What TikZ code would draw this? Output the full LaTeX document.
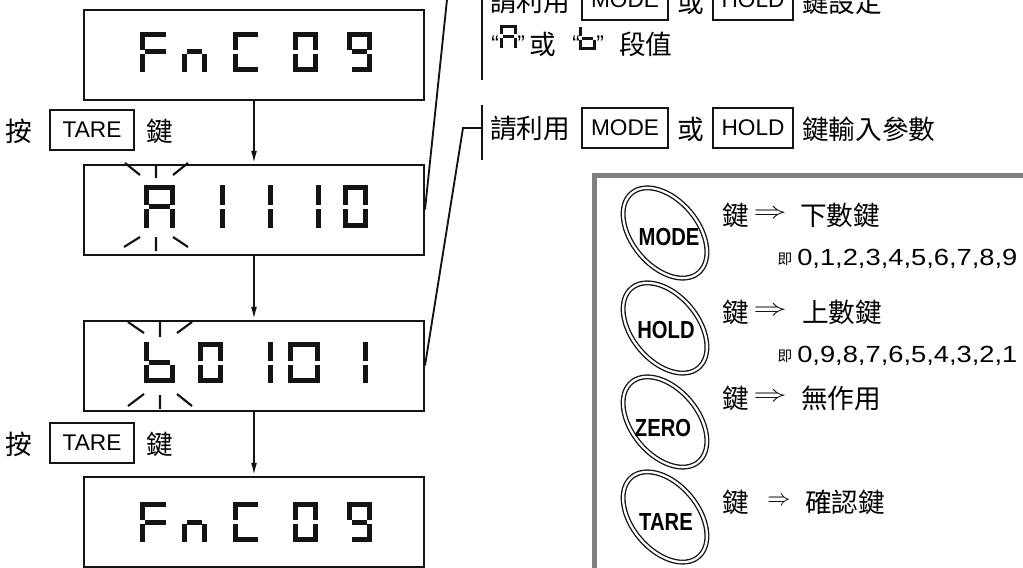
\documentclass[tikz,border=0pt]{standalone}
\usepackage{fontspec}
\setmainfont{Liberation Sans}
\newfontfamily\cjk{Noto Sans CJK TC}
\usetikzlibrary{arrows.meta,calc}
\definecolor{ink}{RGB}{20,20,20}
\definecolor{framegray}{RGB}{128,128,128}
% seven-segment parts (local coordinates, y downwards)
\def\sga{\fill[segfill] (\segT,0) rectangle (\segW-\segT,\segT);}
\def\sgb{\fill[segfill] (\segW-\segT,0) rectangle (\segW,\segH/2-2);}
\def\sgc{\fill[segfill] (\segW-\segT,\segH/2+2) rectangle (\segW,\segH);}
\def\sgd{\fill[segfill] (\segT,\segH-\segT) rectangle (\segW-\segT,\segH);}
\def\sge{\fill[segfill] (0,\segH/2+2) rectangle (\segT,\segH);}
\def\sgf{\fill[segfill] (0,0) rectangle (\segT,\segH/2-2);}
\def\sgg{\fill[segfill] (\segT,\segH/2-\segT/2) rectangle (\segW-\segT,\segH/2+\segT/2);}
\newcommand\sevenseg[6]{%
  \begin{scope}[shift={(#1,#2)}]
    \def\segW{#3}\def\segH{#4}\def\segT{#5}%
    \foreach \s in {#6}{\csname sg\s\endcsname}
  \end{scope}}
\begin{document}
\begin{tikzpicture}[x=0.75pt,y=-0.75pt,
  segfill/.style={fill=ink},
  lcd/.style={draw=ink, line width=1.5pt, minimum width=255pt, minimum height=67.5pt, inner sep=0pt},
  keybox/.style={draw=ink, line width=1.3pt, minimum height=30pt, inner sep=0pt, font=\fontsize{17pt}{19pt}\selectfont},
  cjkt/.style={font=\cjk\fontsize{20pt}{22pt}\selectfont, inner sep=0pt},
  cjks/.style={font=\cjk\fontsize{11pt}{12pt}\selectfont, inner sep=0pt},
  nums/.style={font=\fontsize{17.5pt}{19pt}\selectfont, inner sep=0pt},
  latin/.style={font=\fontsize{17pt}{19pt}\selectfont, inner sep=0pt},
  flow/.style={draw=ink, line width=1.4pt, -{Latex[length=9.5pt,width=4.5pt]}},
  conn/.style={draw=ink, line width=1.4pt},
  blink/.style={draw=ink, line width=1.6pt},
  keyring/.style={draw=ink, double=white, double distance=1.7pt, line width=1pt},
  keylabel/.style={font=\bfseries\fontsize{18.5pt}{20pt}\selectfont, inner sep=0pt}]
\useasboundingbox (0,0) rectangle (1023,567);

% ---------- right key panel ----------
\draw[draw=framegray, line width=3.75pt] (594,175) rectangle (1045,595);
\foreach \cy in {233, 328, 422, 517}{
  \draw[keyring, rotate around={-50:(665,\cy)}] (665,\cy) ellipse [x radius=52, y radius=33];
}
\node[keylabel] (kmode) at (669,237) {\scalebox{0.82}[1]{MODE}};
\node[keylabel] (khold) at (666,330) {\scalebox{0.82}[1]{HOLD}};
\node[keylabel] (kzero) at (663,428) {\scalebox{0.82}[1]{ZERO}};
\node[keylabel] (ktare) at (666,522) {\scalebox{0.82}[1]{TARE}};

\node[cjkt, anchor=west] (m1) at (722,215) {鍵};
\node[latin] (m2) at (770,214) {\scalebox{1.45}[1]{$\Rightarrow$}};
\node[cjkt, anchor=west] (m3) at (800,215) {下數鍵};
\node[cjks] (m4) at (785,259) {即};
\node[nums, anchor=west] (m5) at (797,259) {\scalebox{1.17}[1]{0,1,2,3,4,5,6,7,8,9}};

\node[cjkt, anchor=west] (h1) at (722,312) {鍵};
\node[latin] (h2) at (770,311) {\scalebox{1.45}[1]{$\Rightarrow$}};
\node[cjkt, anchor=west] (h3) at (802,312) {上數鍵};
\node[cjks] (h4) at (785,356) {即};
\node[nums, anchor=west] (h5) at (797,356) {\scalebox{1.17}[1]{0,9,8,7,6,5,4,3,2,1}};

\node[cjkt, anchor=west] (z1) at (722,398) {鍵};
\node[latin] (z2) at (770,397) {\scalebox{1.45}[1]{$\Rightarrow$}};
\node[cjkt, anchor=west] (z3) at (801,398) {無作用};

\node[cjkt, anchor=west] (t1) at (722,502) {鍵};
\node[latin] (t2) at (779,501) {$\Rightarrow$};
\node[cjkt, anchor=west] (t3) at (805,502) {確認鍵};

% ---------- LCD boxes ----------
\node[lcd] (lcd1) at (254,55) {};
\node[lcd] (lcd2) at (254,209.5) {};
\node[lcd] (lcd3) at (254,365.5) {};
\node[lcd] (lcd4) at (254,521.5) {};

\draw[flow] (lcd1.south) -- (lcd2.north);
\draw[flow] (lcd2.south) -- (lcd3.north);
\draw[flow] (lcd3.south) -- (lcd4.north);

% FnC 09
\sevenseg{140}{32}{31}{40}{5}{a,e,f,g}
\sevenseg{182}{32}{25}{40}{5}{c,e,g}
\sevenseg{233}{32}{30}{40}{5}{a,d,e,f}
\sevenseg{293}{32}{25}{40}{5}{a,b,c,d,e,f}
\sevenseg{347}{32}{25}{40}{5}{a,b,c,d,f,g}
% A 1 1 1 0
\sevenseg{144}{185}{31}{43}{5}{a,b,c,e,f,g}
\sevenseg{200}{185}{25}{43}{5}{b,c}
\sevenseg{248}{185}{25}{43}{5}{b,c}
\sevenseg{296}{185}{25}{43}{5}{b,c}
\sevenseg{343}{185}{25}{43}{5}{a,b,c,d,e,f}
% b0 101
\sevenseg{144}{342}{31}{41}{5}{c,d,e,f,g}
\sevenseg{198}{342}{25}{41}{5}{a,b,c,d,e,f}
\sevenseg{248}{342}{25}{41}{5}{b,c}
\sevenseg{288}{342}{32}{41}{5}{a,b,c,d,e,f}
\sevenseg{343}{342}{25}{41}{5}{b,c}
% FnC 09
\sevenseg{140}{502}{31}{40}{5}{a,e,f,g}
\sevenseg{182}{502}{25}{40}{5}{c,e,g}
\sevenseg{233}{502}{30}{40}{5}{a,d,e,f}
\sevenseg{293}{502}{25}{40}{5}{a,b,c,d,e,f}
\sevenseg{347}{502}{25}{40}{5}{a,b,c,d,f,g}

% blink marks
\draw[blink] (125,163) -- (140,175) (156,164) -- (156,178) (188,163) -- (173,175);
\draw[blink] (124,247) -- (140,237) (156,237) -- (156,251) (188,247) -- (173,237);
\draw[blink] (128,322) -- (144,333) (160,322) -- (160,337) (192,322) -- (177,333);
\draw[blink] (128,406) -- (144,394) (160,395) -- (160,409) (192,406) -- (177,394);

% ---------- left labels ----------
\node[cjkt] (p1) at (19,131) {按};
\node[keybox, minimum width=63pt] (tare1) at (92,130) {TARE};
\node[cjkt] (k1) at (160,131) {鍵};
\node[cjkt] (p2) at (19,444) {按};
\node[keybox, minimum width=63pt] (tare2) at (92,443) {TARE};
\node[cjkt] (k2) at (160,444) {鍵};

% ---------- top texts ----------
\node[cjkt, anchor=west] (a1) at (490,2) {請利用};
\node[keybox, minimum width=64.5pt] (a2) at (625,0) {MODE};
\node[cjkt] (a3) at (691,2) {或};
\node[keybox, minimum width=60pt] (a4) at (753,0) {HOLD};
\node[cjkt, anchor=west] (a5) at (802,2) {鍵設定};

\node[latin, anchor=base west] (q1) at (491,52) {“};
\sevenseg{500}{25}{17}{23}{3}{a,b,c,e,f,g}
\node[latin, anchor=base west] (q2) at (517,52) {”};
\node[cjkt] (q3) at (543,44) {或};
\node[latin, anchor=base west] (q4) at (572,52) {“};
\sevenseg{579}{27}{17}{23}{3}{c,d,e,f,g}
\node[latin, anchor=base west] (q5) at (596,52) {”};
\node[cjkt, anchor=west] (q6) at (619,44) {段值};

\node[cjkt, anchor=west] (b1) at (490,129) {請利用};
\node[keybox, minimum width=64.5pt] (b2) at (625,128) {MODE};
\node[cjkt] (b3) at (691,129) {或};
\node[keybox, minimum width=60pt] (b4) at (753,128) {HOLD};
\node[cjkt, anchor=west] (b5) at (802,129) {鍵輸入參數};

% ---------- brackets and leaders ----------
\coordinate (br1top) at (482,-5);
\coordinate (br1bot) at (482,80);
\draw[conn] (br1top) -- (br1bot);
\coordinate (lead1) at (448,-10);
\draw[conn] (lcd2.east) -- (lead1);

\coordinate (br2top) at (482,105);
\coordinate (br2bot) at (482,160);
\coordinate (br2mid) at (482,128);
\coordinate (lead2) at (463,128);
\draw[conn] (br2top) -- (br2bot);
\draw[conn] (lcd3.east) -- (lead2) -- (br2mid);
\end{tikzpicture}
\end{document}
